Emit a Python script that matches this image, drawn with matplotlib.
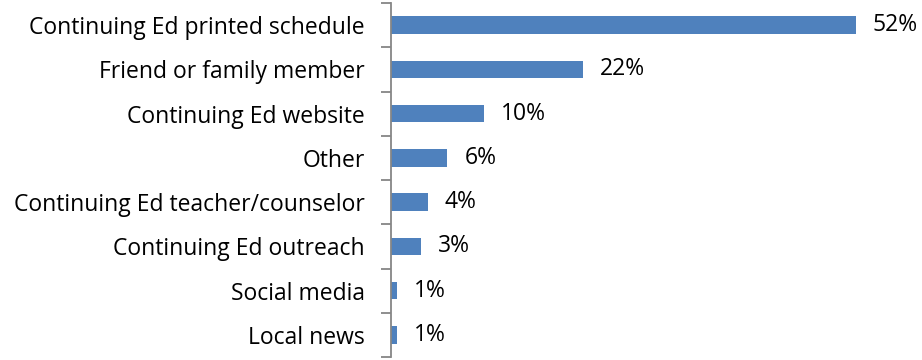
import matplotlib.pyplot as plt

categories = [
    "Continuing Ed printed schedule",
    "Friend or family member",
    "Continuing Ed website",
    "Other",
    "Continuing Ed teacher/counselor",
    "Continuing Ed outreach",
    "Social media",
    "Local news",
]
values = [52, 21.5, 10.4, 6.3, 4.1, 3.4, 0.7, 0.7]
labels = ["52%", "22%", "10%", "6%", "4%", "3%", "1%", "1%"]

plt.rcParams['font.family'] = ['Open Sans', 'DejaVu Sans']

fig = plt.figure(figsize=(9.22, 3.6), dpi=100)
ax = fig.add_axes([391 / 922, 3 / 360, (913 - 391) / 922, 354 / 360])

y = list(range(len(categories)))
ax.barh(y, values, height=0.4, color='#4F81BD')
for yi, v, lab in zip(y, values, labels):
    ax.text(v + 1.9, yi, lab, va='center', ha='left', fontsize=16.5, color='black')

ax.set_xlim(0, 52 * (913 - 391) / 465)
ax.set_ylim(len(categories) - 0.5, -0.5)
ax.set_yticks(y)
ax.set_yticklabels(categories, fontsize=16.5)
ax.set_yticks([i - 0.5 for i in range(len(categories) + 1)], minor=True)
ax.tick_params(axis='y', which='major', length=0, pad=19)
ax.tick_params(axis='y', which='minor', length=7, width=1.3, color='#868686')
ax.set_xticks([])
for s in ['top', 'right', 'bottom']:
    ax.spines[s].set_visible(False)
ax.spines['left'].set_color('#868686')
ax.spines['left'].set_linewidth(1.3)

fig.savefig('out.png', dpi=100)
